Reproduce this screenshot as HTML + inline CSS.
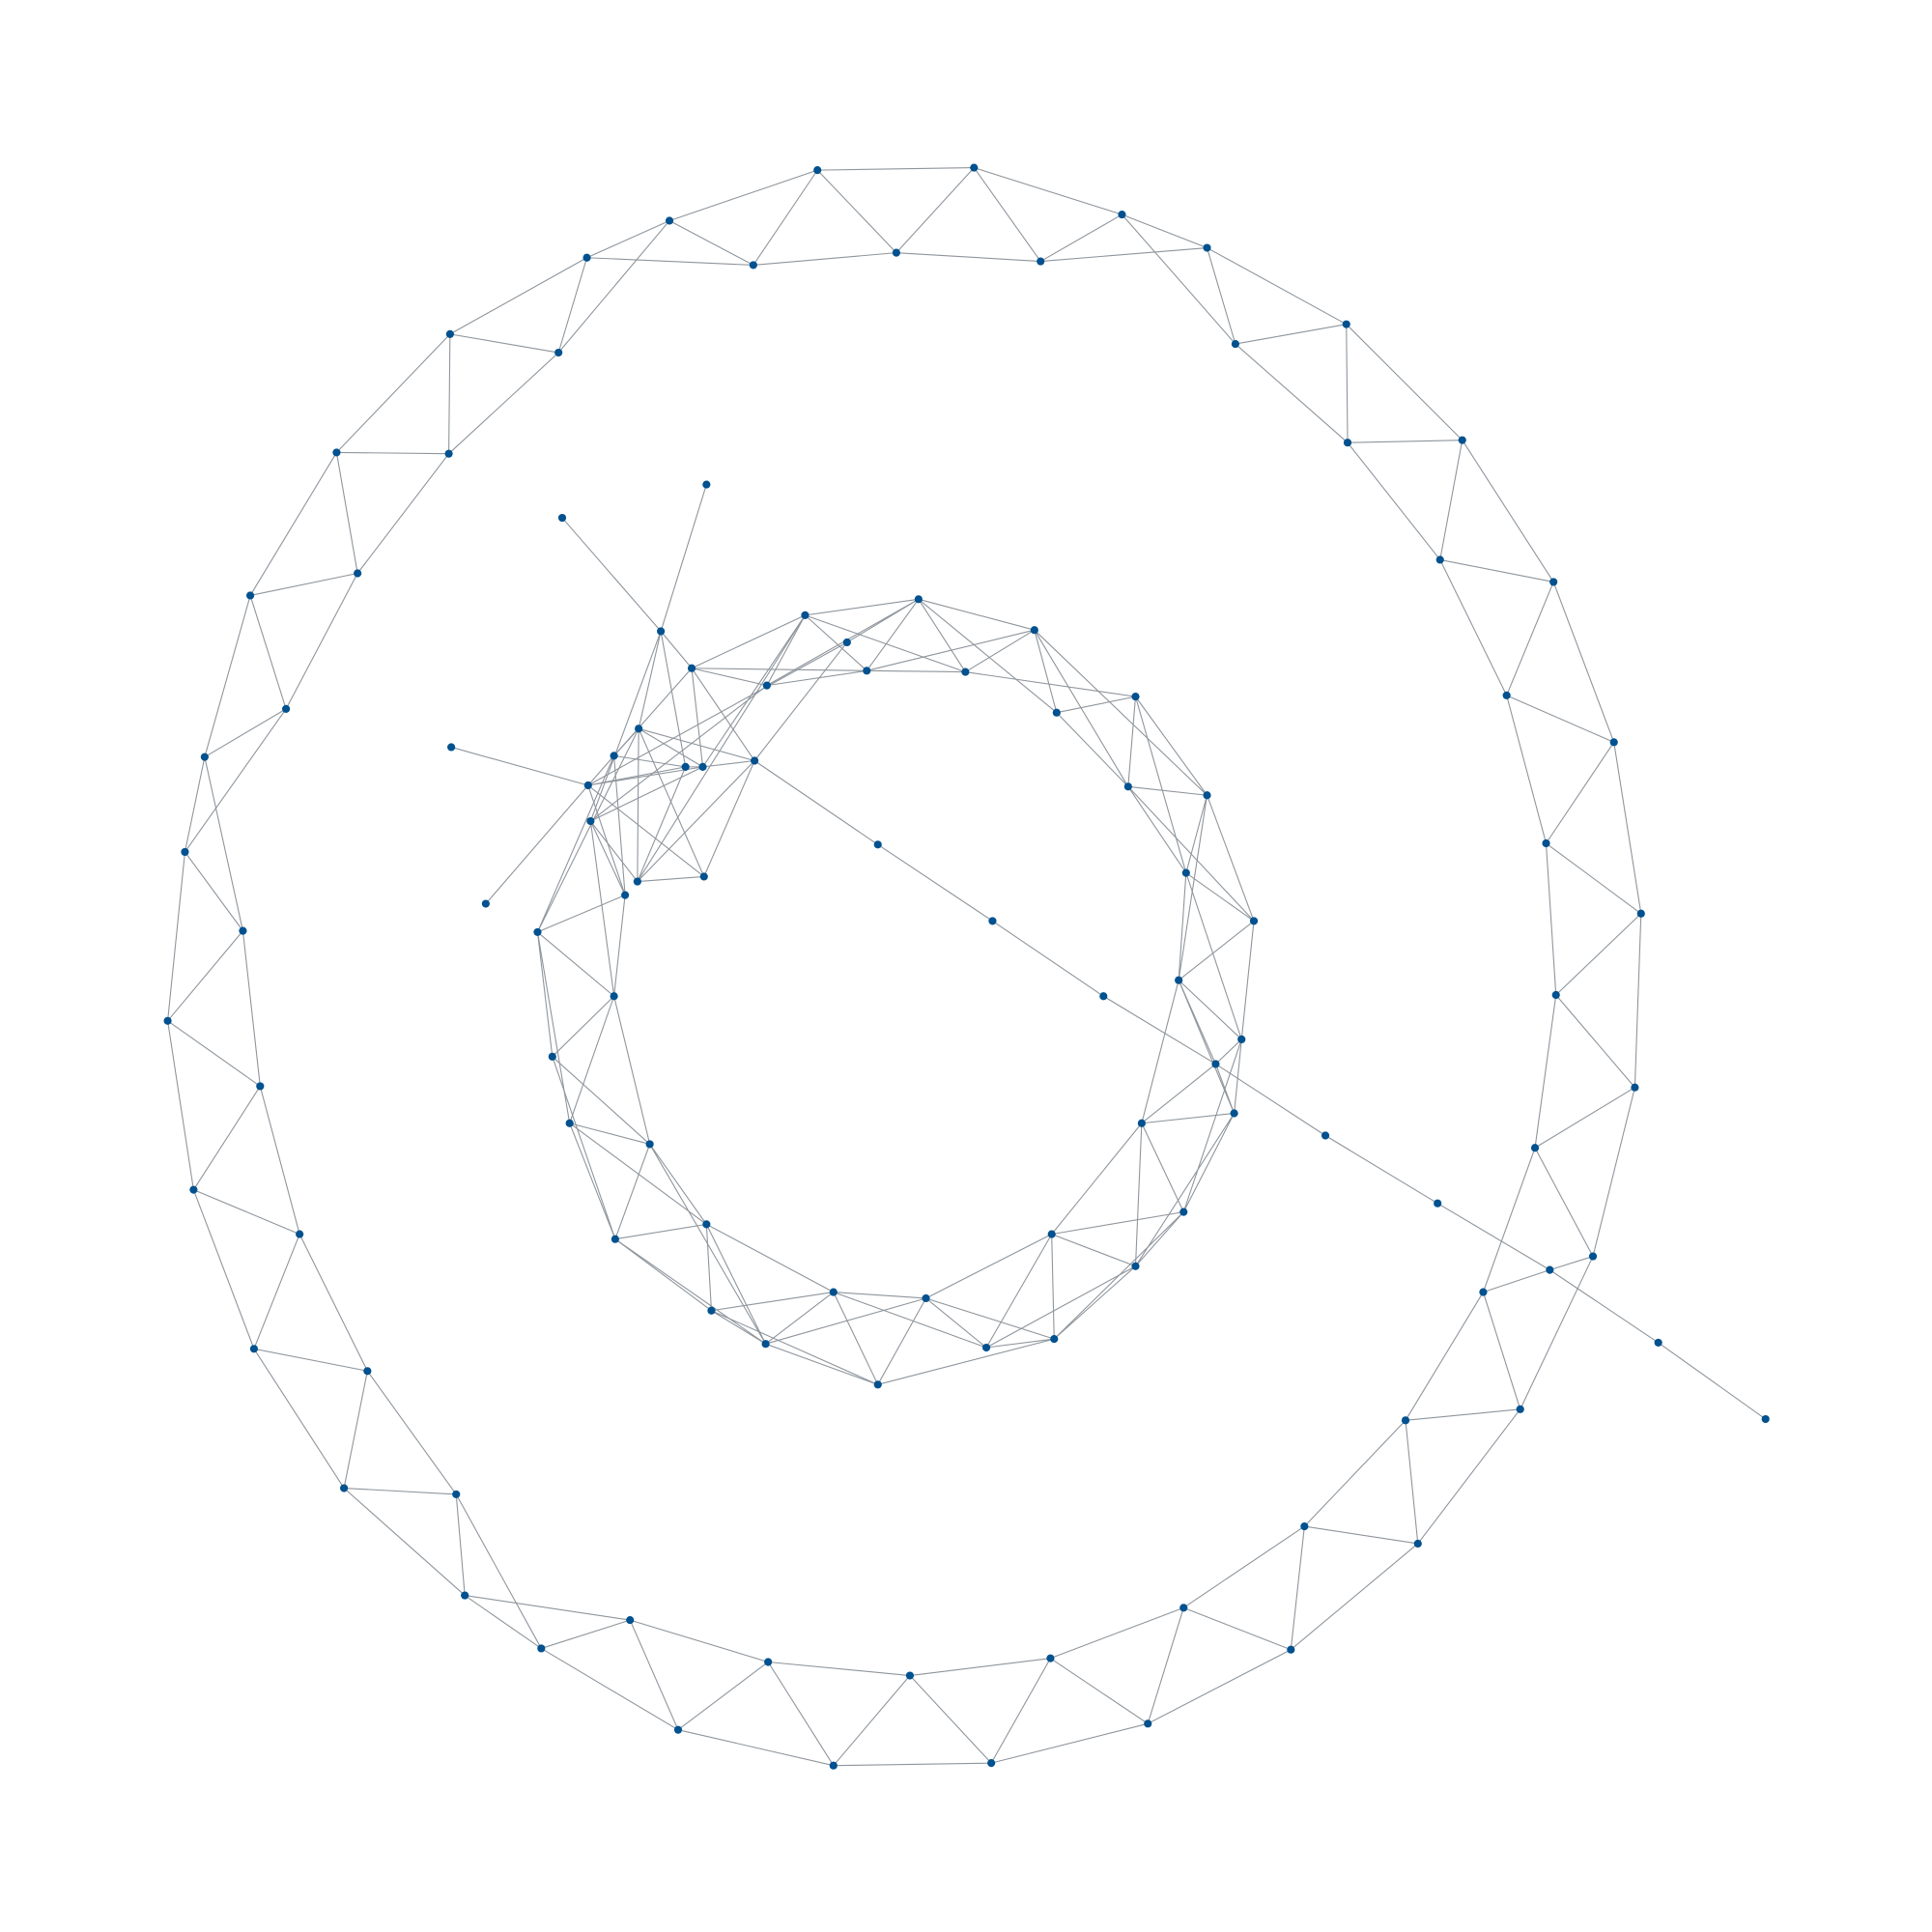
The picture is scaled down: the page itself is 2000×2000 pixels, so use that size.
<!DOCTYPE html>
<html>
<head>
<meta charset="utf-8">
<style>
html,body{margin:0;padding:0;background:#fff;}
svg{display:block;}
</style>
</head>
<body>
<svg id="chart" width="2000" height="2000" viewBox="0 0 1567 1567" xmlns="http://www.w3.org/2000/svg">
<rect x="0" y="0" width="1567" height="1567" fill="#ffffff"/>
<g id="edges"></g>
<g id="nodes"></g>
</svg>
<script>
const nodeIds = ["A1","A2","A3","A4","B1","B2","C","D","E","F","G","H","I","J","K","L","M","N","O","P","Q","R","S","T","U","V","W","X","Y","Z","AA","AB","AC","AD","AE","AF","AG","AH","AI","AJ","AK","AL","AM","AN","AO","AP","AQ","AR","AS","AT","AU","AV","AW","AX","AY","AZ","BA","BB","BC",
"n1","n2","n3","n4","n5","n6","n7","n8","n9","n10","n11","n12","n13","n14","n15","n16","n17","n18","n19","n20","n21","n22","n23","n24","n25","n26","n27","n28","n29","n30","n31","n32","n33","n34","n35","n36","n37","n38","n39","n40","n41","n42","n43","n44","n45","n46","n47",
"p1","p2","p3","p4","s1","s2","s3","s4","s5","s6","s7"];
const nodeX = [663,790,910,979,543,476,611,727,844,1002,1092,1093,1186,1168,1260,1222,1309,1254,1331,1262,1326,1245,1292,1257,1203,1233,1140,1150,1058,1047,960,931,852,804,738,676,623,550,511,439,377,370,279,298,206,243,157,211,136,197,150,166,232,203,290,273,364,365,453,
536,561,653,687,703,622,518,498,556,570,612,477,479,517,571,507,436,745,783,839,857,921,498,448,462,527,499,573,577,621,676,712,751,800,855,853,921,960,926,1001,986,1007,956,1017,962,979,915,
573,456,366,394,712,805,895,1075,1166,1345,1432];
const nodeY = [138,136,174,201,179,209,215,205,212,279,263,359,357,454,472,564,602,684,741,807,882,931,1019,1030,1048,1143,1152,1252,1238,1338,1304,1398,1345,1430,1359,1432,1348,1403,1314,1337,1294,1212,1207,1112,1094,1001,965,881,828,755,691,614,575,483,465,367,368,271,286,
512,542,499,521,544,556,591,613,622,622,617,637,666,715,711,726,756,486,545,511,578,565,808,857,911,928,1005,993,1063,1090,1048,1123,1053,1093,1086,1001,1027,983,911,903,863,843,795,747,708,645,638,
393,420,606,733,685,747,808,921,976,1089,1151];
const edgeList = [
"A1-A2","A1-C","A1-D","A2-D","A2-A3","A2-E","A3-A4","A3-F","A4-E","A4-F","A4-G","B1-A1","B1-C","B1-BC","B2-C","B2-B1","B2-BC","B2-BB","C-D","D-E","E-A3",
"F-G","F-H","G-H","G-I","H-I","H-J","I-J","I-K","J-K","J-L","K-L","K-M","L-M","L-N","M-N","M-O","N-O","N-P","O-P","O-Q","P-Q","P-R","Q-R","Q-S","R-S","R-U","S-T","T-U","S-V","U-V","U-W","V-W","V-X","W-X","W-Y","X-Y","X-Z","Y-Z","Y-AA","Z-AA","Z-AB","AA-AB","AA-AC","AB-AC","AB-AD","AC-AD","AC-AE","AD-AE","AD-AF","AE-AF","AE-AG","AF-AG","AF-AH","AG-AH","AG-AI","AH-AI","AH-AJ","AI-AJ","AI-AK","AJ-AK","AJ-AL","AK-AL","AK-AM","AL-AM","AL-AN","AM-AN","AM-AO","AN-AO","AN-AP","AO-AP","AO-AQ","AP-AQ","AP-AR","AQ-AR","AQ-AS","AR-AS","AR-AT","AS-AT","AS-AU","AT-AU","AT-AV","AU-AV","AU-AW","AV-AW","AV-AX","AW-AX","AW-AY","AX-AY","AX-AZ","AY-AZ","AY-BA","AZ-BA","AZ-BB","BA-BB","BA-BC","BB-BC",
"n1-n2","n1-n9","n1-n7","n1-n13","n1-p1","n1-p2",
"n2-n3","n2-n5","n2-n6","n2-n10","n2-n11","n2-n8",
"n3-n18","n3-n5","n3-n10","n3-n14","n3-n6","n3-n19",
"n4-n11","n4-n12","n4-n18",
"n6-n5","n6-n13","n6-n18",
"n7-n8","n7-n11","n7-n14","n7-n15","n7-n10","n7-n17",
"n8-n9","n8-n16","n8-n17","n8-n12",
"n9-n12","n9-n10","n9-n14",
"n10-n11","n10-n12",
"n11-n15","n11-n14",
"n12-n15","n12-n16","n12-p3","n12-p4",
"n13-n10","n13-n14","n13-n16","n13-n23",
"n14-n15","n16-n17","n16-n23",
"n17-n23","n17-n24","n17-n25",
"n23-n24","n23-n25","n23-n26",
"n24-n26","n24-n27",
"n25-n26","n25-n27","n25-n28",
"n26-n27","n26-n28","n26-n30",
"n27-n28","n27-n29","n27-n30",
"n28-n29","n28-n30","n28-n31",
"n29-n31","n29-n32","n29-n30",
"n30-n31","n30-n33","n30-n32",
"n31-n32","n31-n33","n31-n34",
"n32-n33","n32-n35",
"n33-n34","n33-n35","n33-n36",
"n34-n35","n34-n36","n34-n37",
"n35-n36","n35-n37","n35-n38",
"n36-n37","n36-n38","n36-n39",
"n37-n38","n37-n39","n37-n40",
"n38-n39","n38-n40","n38-n42",
"n39-n40","n39-n41","n39-n43",
"n40-n41","n40-n42","n40-n43",
"n41-n42","n41-n43",
"n42-n43","n42-n44","n42-n45",
"n43-n44","n43-n45","n43-n46",
"n44-n45","n44-n46","n44-n47",
"n45-n46","n45-n47","n45-n22",
"n46-n47","n46-n22","n46-n20",
"n47-n22","n47-n20","n47-n21",
"n22-n21","n22-n19",
"n21-n20","n21-n18",
"n18-n19","n18-n20","n18-n5",
"n19-n5","n19-n20","n20-n5",
"n11-s1","s1-s2","s2-s3","s3-n41","n41-s4","s4-s5","s5-T","T-s6","s6-s7"
];

const SVGNS = "http://www.w3.org/2000/svg";
const edgesG = document.getElementById('edges');
const nodesG = document.getElementById('nodes');
function xOf(id){ return nodeX[nodeIds.indexOf(id)]; }
function yOf(id){ return nodeY[nodeIds.indexOf(id)]; }
for (let i = 0; i < edgeList.length; i++) {
  const parts = edgeList[i].split('-');
  const a = parts[0], b = parts[1];
  if (nodeIds.indexOf(a) < 0 || nodeIds.indexOf(b) < 0) continue;
  const ln = document.createElementNS(SVGNS, 'line');
  ln.setAttribute('x1', xOf(a)); ln.setAttribute('y1', yOf(a));
  ln.setAttribute('x2', xOf(b)); ln.setAttribute('y2', yOf(b));
  ln.setAttribute('stroke', '#8e959c');
  ln.setAttribute('stroke-width', '0.85');
  
  
  edgesG.appendChild(ln);
}
for (let i = 0; i < nodeIds.length; i++) {
  const c = document.createElementNS(SVGNS, 'circle');
  c.setAttribute('cx', nodeX[i]); c.setAttribute('cy', nodeY[i]);
  c.setAttribute('r', '3.2');
  c.setAttribute('fill', '#00518f');
  
  
  nodesG.appendChild(c);
}
</script>
</body>
</html>
